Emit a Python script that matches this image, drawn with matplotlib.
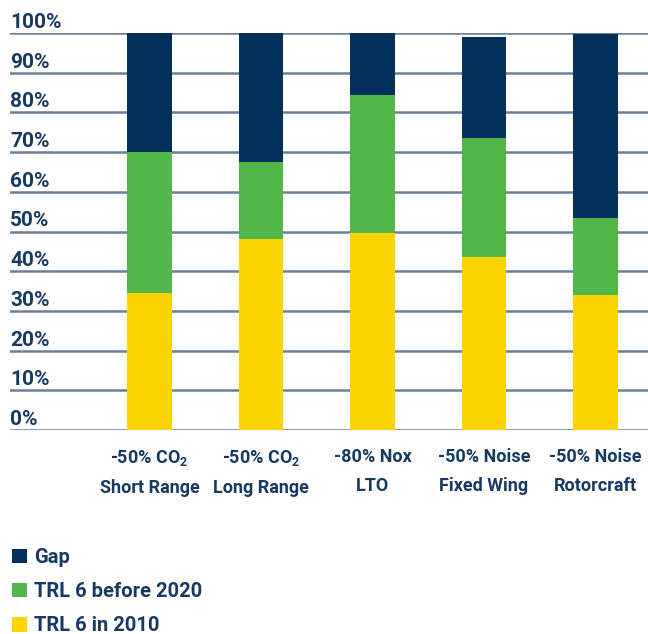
import matplotlib
matplotlib.use('Agg')
import matplotlib.pyplot as plt
from matplotlib.transforms import blended_transform_factory, ScaledTranslation

# goal shares per technology target (percent of the way to the goal)
categories = ['-50% CO$_2$\nShort Range', '-50% CO$_2$\nLong Range', '-80% Nox\nLTO',
              '-50% Noise\nFixed Wing', '-50% Noise\nRotorcraft']
trl6_2010 = [34.5, 48, 49.5, 43.5, 34]
trl6_2020 = [35.5, 19.5, 35, 30, 19.5]
gap = [30, 32.5, 15.5, 25.5, 46.2]
ytick_vals = [0, 10, 20, 30, 40, 50, 60, 70, 80, 90, 100]

navy = '#02305b'
green = '#52b74b'
yellow = '#fdd400'
txt = '#163a62'
grid_c = '#6a819c'

fam = 'Roboto'
plt.rcParams['font.family'] = fam
plt.rcParams['mathtext.fontset'] = 'custom'
plt.rcParams['mathtext.rm'] = 'Roboto:bold'
plt.rcParams['mathtext.default'] = 'rm'

fig = plt.figure(figsize=(6.48, 6.34), dpi=100)
ax = fig.add_axes([10/648, 1-430/634, 638/648, 397/634])

x = list(range(len(categories)))
bottom2 = trl6_2010
bottom3 = [a+b for a, b in zip(trl6_2010, trl6_2020)]
b1 = ax.bar(x, trl6_2010, width=0.4, color=yellow, zorder=3, label='TRL 6 in 2010')
b2 = ax.bar(x, trl6_2020, width=0.4, bottom=bottom2, color=green, zorder=3, label='TRL 6 before 2020')
b3 = ax.bar(x, gap, width=0.4, bottom=bottom3, color=navy, zorder=3, label='Gap')

ax.set_xlim(-1.25, 4.47)
ax.set_ylim(0, 100)
for v in ytick_vals:
	ax.axhline(v, color=grid_c, lw=1.8, zorder=1)

# y labels sit just above each grid line
trans = blended_transform_factory(ax.transAxes, ax.transData) + ScaledTranslation(0, 5/100, fig.dpi_scale_trans)
for v in ytick_vals:
	ax.text(0, v, '%d%%' % v, transform=trans, ha='left', va='baseline',
			fontsize=15, fontweight='bold', color=txt)

ax.set_yticks([])
ax.set_xticks(x)
ax.set_xticklabels(categories, fontsize=13, fontweight='bold', color=txt, linespacing=1.75)
ax.tick_params(axis='x', length=0, pad=13)
for s in ax.spines.values():
	s.set_visible(False)

fig.legend(handles=[b3, b2, b1], labels=['Gap', 'TRL 6 before 2020', 'TRL 6 in 2010'],
		   loc='upper left', bbox_to_anchor=(12/648, 1-548/634), frameon=False,
		   handlelength=0.75, handleheight=0.75, handletextpad=0.35, labelspacing=0.75,
		   prop={'size': 14.5, 'weight': 'bold', 'family': fam},
		   labelcolor=txt, borderpad=0, borderaxespad=0)

fig.savefig('out.png', dpi=100)
